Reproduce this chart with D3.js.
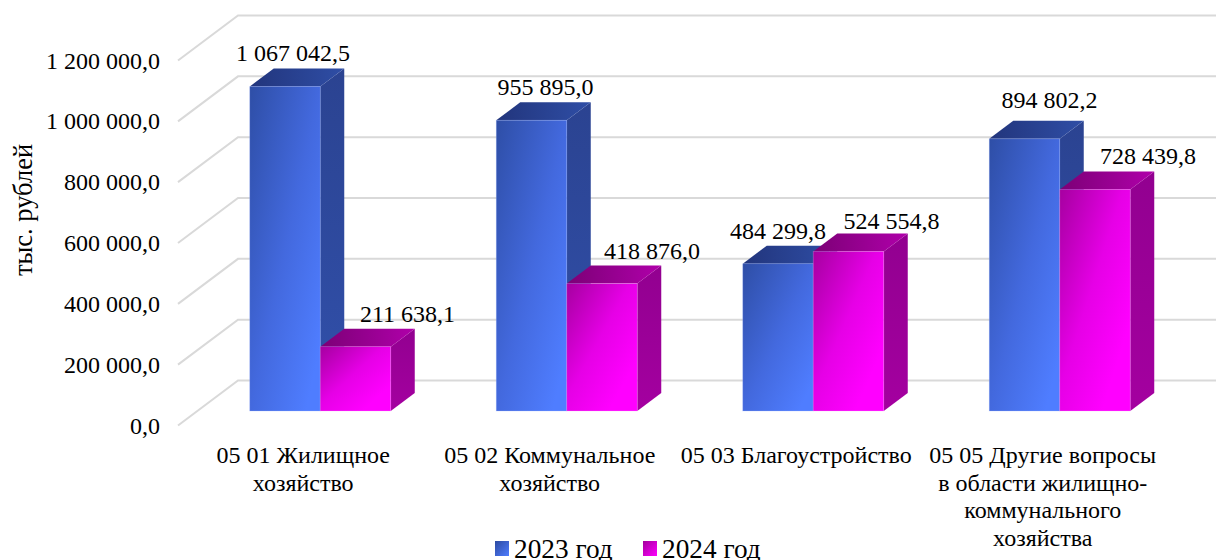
<!DOCTYPE html>
<html><head><meta charset="utf-8">
<script src="https://cdn.jsdelivr.net/npm/d3@7/dist/d3.min.js"></script>
<style>html,body{margin:0;background:#fff}svg{display:block}text{font-family:"Liberation Serif",serif;fill:#000}</style>
</head><body><svg id="c" width="1216" height="560"></svg>
<script>
const categories = [
  ["05 01 Жилищное","хозяйство"],
  ["05 02 Коммунальное","хозяйство"],
  ["05 03 Благоустройство"],
  ["05 05 Другие вопросы","в области жилищно-","коммунального","хозяйства"]
];
const seriesNames = ["2023 год","2024 год"];
const values2023 = [1067042.5, 955895.0, 484299.8, 894802.2];
const values2024 = [211638.1, 418876.0, 524554.8, 728439.8];
const yTicks = [0,200000,400000,600000,800000,1000000,1200000];

const fmt = (v,d=1)=>{const [a,b]=v.toFixed(d).split(".");return a.replace(/\B(?=(\d{3})+$)/g," ")+","+b;};
const svg = d3.select("#c");
const defs = svg.append("defs");
function grad(id,x1,y1,x2,y2,stops){
  const g=defs.append("linearGradient").attr("id",id).attr("x1",x1).attr("y1",y1).attr("x2",x2).attr("y2",y2);
  stops.forEach(([o,c])=>g.append("stop").attr("offset",o).attr("stop-color",c));
}
grad("bf",0,0,1,1,[[0,"#2e4ea6"],[0.5,"#4369de"],[0.9,"#4f7dff"],[1,"#4f7dff"]]);
grad("bt",0,0,1,0,[[0,"#22357c"],[1,"#2f4ea6"]]);
grad("bs",0,0,0,1,[[0,"#2b4391"],[1,"#3150ab"]]);
grad("bl",0,0,1,1,[[0,"#2c4aa0"],[1,"#4f7dff"]]);
grad("mf",0,0,1,1,[[0,"#a600a0"],[0.45,"#e600e6"],[0.8,"#ff00ff"],[1,"#ff00ff"]]);
grad("mt",0,0,1,0,[[0,"#7c0076"],[1,"#b000aa"]]);
grad("ms",0,0,0,1,[[0,"#920090"],[1,"#a400a0"]]);
grad("ml",0,0,1,1,[[0,"#a3009c"],[1,"#ff00ff"]]);
const sideId=["bs","ms"], frontId=["bf","mf"], topId=["bt","mt"], legId=["bl","ml"];
const edge=["#9db4ff","#f4a8f4"];

// 3D projection: back wall offset, bar depth offset
const wall={dx:60,dy:-45}, depth={dx:24,dy:-18};
const baseY=411;
const y=d3.scaleLinear().domain([0,1200000]).range([baseY,baseY-365]);
const x0=d3.scaleBand().domain(d3.range(categories.length)).range([197,1183]);
const x1=d3.scaleBand().domain([0,1]).range([x0.bandwidth()/2-70.5,x0.bandwidth()/2+70.5]);
const floorY=v=>y(v)+14.5;  // front-edge of the wall diagonal

// grid
const grid=svg.append("g").attr("fill","none").attr("stroke","#d9d9d9").attr("stroke-width",2);
yTicks.forEach(t=>{
  const yb=floorY(t)+wall.dy;
  grid.append("path").attr("d",`M178,${floorY(t)}L${178+wall.dx},${yb}H1216`);
});
// y labels
svg.append("g").attr("font-size",24).attr("text-anchor","end").selectAll("text").data(yTicks).join("text")
  .attr("x",160).attr("y",t=>floorY(t)+8).text(t=>fmt(t));
svg.append("text").attr("font-size",26.5).attr("text-anchor","middle")
  .attr("transform","translate(32,210) rotate(-90)").text("тыс. рублей");

// bars
const series=[values2023,values2024];
const marks=svg.append("g");
categories.forEach((c,i)=>{
  series.forEach((vals,s)=>{
    const xl=x0(i)+x1(s), w=x1.bandwidth(), t=y(vals[i]), b=y(0);
    const g=marks.append("g");
    g.append("path").attr("fill",`url(#${sideId[s]})`).attr("d",`M${xl+w},${t}l${depth.dx},${depth.dy}V${b+depth.dy}l${-depth.dx},${-depth.dy}Z`);
    g.append("path").attr("fill",`url(#${topId[s]})`).attr("d",`M${xl},${t}l${depth.dx},${depth.dy}h${w}l${-depth.dx},${-depth.dy}Z`);
    g.append("rect").attr("x",xl).attr("y",t).attr("width",w).attr("height",b-t).attr("fill",`url(#${frontId[s]})`)
      .attr("stroke",edge[s]).attr("stroke-opacity",0.35).attr("stroke-width",0.8);
  });
});
// data labels (manual nudges from the bar's centre, as in the source)
const labelNudgeX=[[8,14,0,25],[52,50,43,53]];
series.forEach((vals,s)=>vals.forEach((v,i)=>{
  svg.append("text").attr("font-size",24).attr("text-anchor","middle")
    .attr("x",x0(i)+x1(s)+x1.bandwidth()/2+labelNudgeX[s][i])
    .attr("y",y(v)-(s===1&&i===2?22:s===0&&i===3?31:25))
    .text(fmt(v));
}));
// category labels
const cat=svg.append("g").attr("font-size",24).attr("text-anchor","middle");
categories.forEach((lines,i)=>{
  const cx=x0(i)+x0.bandwidth()/2-17;
  lines.forEach((l,k)=>cat.append("text").attr("x",cx).attr("y",463+k*27.6).text(l));
});
// legend
const lg=svg.append("g");
seriesNames.forEach((n,s)=>{
  const lx=[495,643][s];
  lg.append("rect").attr("x",lx).attr("y",541).attr("width",14).attr("height",15).attr("fill",`url(#${legId[s]})`);
  lg.append("text").attr("x",lx+19).attr("y",558).attr("font-size",27.3).text(n);
});
</script></body></html>
